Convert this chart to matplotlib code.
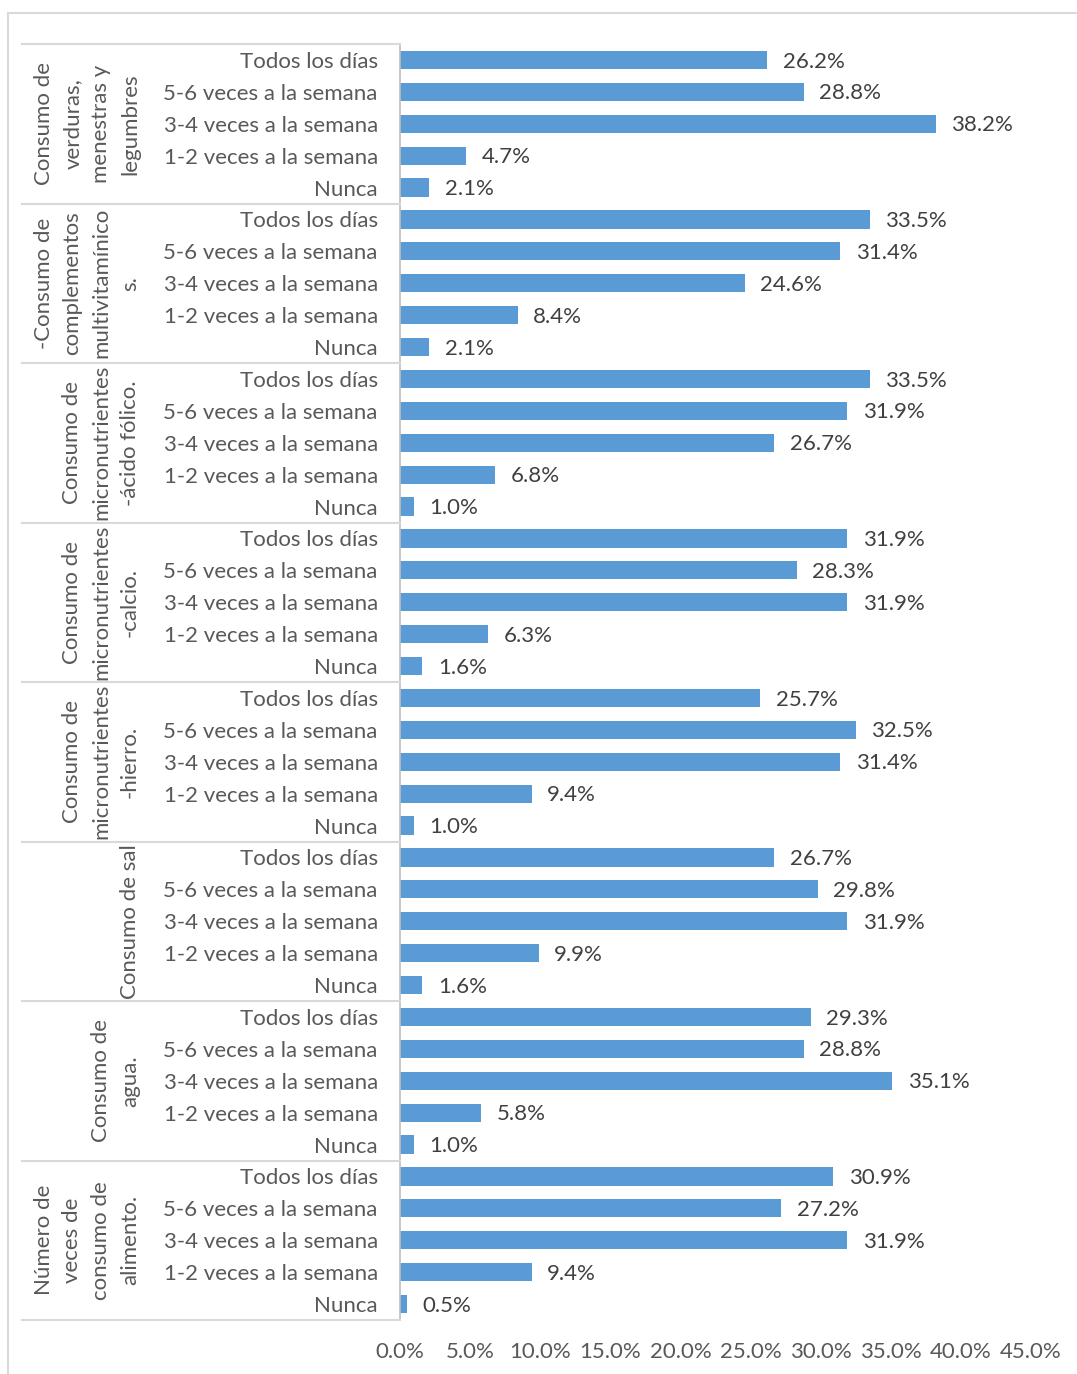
import matplotlib
matplotlib.use("Agg")
import matplotlib.pyplot as plt
from matplotlib.lines import Line2D
from matplotlib.patches import Rectangle
from matplotlib.transforms import blended_transform_factory

plt.rcParams['font.family'] = ['Lato', 'DejaVu Sans']

grupos = [
    "Consumo de\nverduras,\nmenestras y\nlegumbres",
    "-Consumo de\ncomplementos\nmultivitamínico\ns.",
    "Consumo de\nmicronutrientes\n-ácido fólico.",
    "Consumo de\nmicronutrientes\n-calcio.",
    "Consumo de\nmicronutrientes\n-hierro.",
    "Consumo de sal",
    "Consumo de\nagua.",
    "Número de\nveces de\nconsumo de\nalimento.",
]
frecuencias = ["Todos los días", "5-6 veces a la semana", "3-4 veces a la semana",
               "1-2 veces a la semana", "Nunca"]

verduras = [26.2, 28.8, 38.2, 4.7, 2.1]
multivitaminicos = [33.5, 31.4, 24.6, 8.4, 2.1]
acido_folico = [33.5, 31.9, 26.7, 6.8, 1.0]
calcio = [31.9, 28.3, 31.9, 6.3, 1.6]
hierro = [25.7, 32.5, 31.4, 9.4, 1.0]
sal = [26.7, 29.8, 31.9, 9.9, 1.6]
agua = [29.3, 28.8, 35.1, 5.8, 1.0]
alimento = [30.9, 27.2, 31.9, 9.4, 0.5]

series = [verduras, multivitaminicos, acido_folico, calcio, hierro, sal, agua, alimento]
xticks = [0, 5, 10, 15, 20, 25, 30, 35, 40, 45]

W, H = 1077, 1374
fs = 16
fig = plt.figure(figsize=(W / 100, H / 100), dpi=100)
ax = fig.add_axes([400 / W, 1 - 1320 / H, 631 / W, 1276 / H])

valores = [v for s in series for v in s]
etiquetas = frecuencias * len(series)
pos = list(range(len(valores)))

ax.barh(pos, valores, height=0.57, color="#5B9BD5")
for p, v in zip(pos, valores):
    ax.text(v + 1.1, p + 0.05, f"{v:.1f}%", va="center", ha="left", fontsize=fs, color="#404040")

ax.set_ylim(len(valores) - 0.5, -0.5)
ax.set_xlim(0, 45)
ax.set_yticks(pos)
ax.set_yticklabels(etiquetas, fontsize=fs, color="#595959")
ax.set_xticks(xticks)
ax.set_xticklabels([f"{t:.1f}%" for t in xticks], fontsize=fs, color="#595959")
ax.tick_params(axis="y", length=0, pad=16)
ax.tick_params(axis="x", length=0, pad=16)
for s in ["top", "right", "bottom"]:
    ax.spines[s].set_visible(False)
ax.spines["left"].set_color("#BFBFBF")
ax.spines["left"].set_linewidth(1.2)

tr = blended_transform_factory(fig.transFigure, ax.transData)
for k in range(len(series) + 1):
    y = -0.5 + 5 * k
    fig.add_artist(Line2D([22 / W, 400 / W], [y, y], transform=tr, color="#D9D9D9", lw=1.5))
for k, g in enumerate(grupos):
    ax.text(140 / W, 5 * k + 2, g, transform=tr, rotation=90, ha="right", va="center",
            multialignment="center", fontsize=fs, color="#595959", linespacing=1.55)

fig.add_artist(Rectangle((8 / W, -0.1), 2, 1.1 - 13 / H, transform=fig.transFigure,
                         fill=False, edgecolor="#D9D9D9", lw=1.5))

fig.savefig("out.png", dpi=100)
